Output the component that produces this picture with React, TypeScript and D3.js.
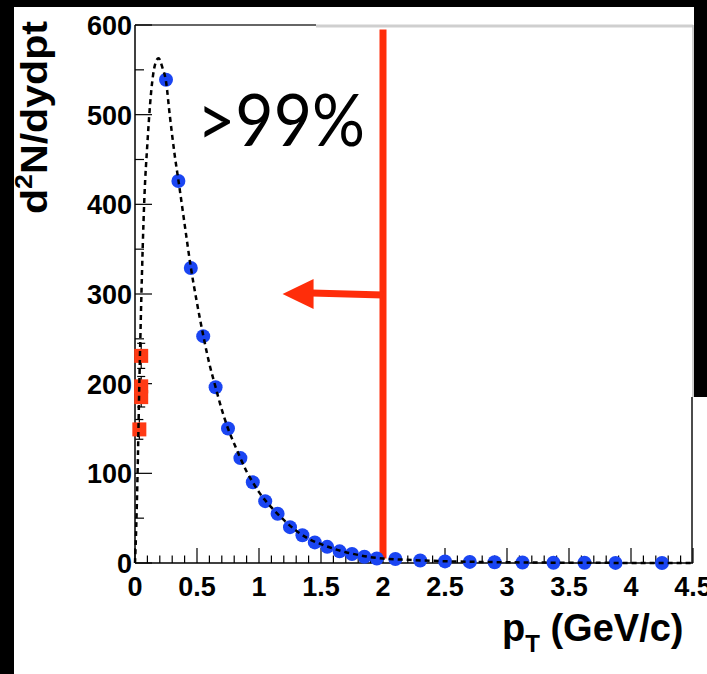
import React from 'react';
import * as d3 from 'd3';

// ---- data ----
const bluePt = [0.25, 0.35, 0.45, 0.55, 0.65, 0.75, 0.85, 0.95, 1.05, 1.15, 1.25, 1.35, 1.45, 1.55, 1.65, 1.75, 1.85, 1.95, 2.1, 2.3, 2.5, 2.7, 2.9, 3.125, 3.375, 3.625, 3.875, 4.25];
const blueVal = [539, 426, 329, 253, 196, 150, 117, 90, 69, 55, 40, 31, 23, 18, 13, 10, 7, 5, 4.5, 2.8, 1.8, 1.2, 0.8, 0.5, 0.3, 0.2, 0.1, 0.05];

const redPt = [0.05, 0.05, 0.05, 0.035];
const redVal = [231, 197, 185, 149];
const redErr = [14, 11, 11, 11];

const fitPt = [0.0, 0.01, 0.02, 0.035, 0.05, 0.075, 0.1, 0.13, 0.16, 0.19, 0.22, 0.25, 0.28, 0.32, 0.35, 0.4, 0.45, 0.5, 0.55, 0.6, 0.65, 0.7, 0.75, 0.8, 0.85, 0.9, 0.95, 1.0, 1.1, 1.2, 1.3, 1.4, 1.5, 1.6, 1.7, 1.8, 1.9, 2.0, 2.2, 2.5, 3.0, 3.5, 4.0, 4.5];
const fitVal = [0, 40, 95, 200, 290, 405, 468, 525, 555, 563, 553, 537, 500, 455, 427, 378, 330, 290, 254, 222, 196, 171, 150, 133, 117, 102, 90, 79, 62, 48, 36, 27, 21, 16, 12, 9, 6.5, 5, 3.5, 2, 0.8, 0.3, 0.1, 0.05];

const cutPt = 2.0;
const cutTop = 595;
const cutBottom = 5;
const arrowLevel = 300;
const arrowTip = 1.19;
const arrowHeadBase = 1.44;
const annotation = '>99%';

const xTicks = [0, 0.5, 1, 1.5, 2, 2.5, 3, 3.5, 4, 4.5];
const xTickLabels = ['0', '0.5', '1', '1.5', '2', '2.5', '3', '3.5', '4', '4.5'];
const yTicks = [0, 100, 200, 300, 400, 500, 600];
const yTickLabels = ['0', '100', '200', '300', '400', '500', '600'];

export default function App() {
  const W = 707, H = 674;
  const x = d3.scaleLinear().domain([0, 4.5]).range([135, 693]);
  const y = d3.scaleLinear().domain([0, 600]).range([563, 25]);

  const fitLine = d3
    .line<number>()
    .x((_, i) => x(fitPt[i]))
    .y((d) => y(d))
    .curve(d3.curveMonotoneX)(fitVal) as string;

  const xMinor = d3.range(0, 46).map((i) => i / 10);
  const yMinor = d3.range(0, 13).map((i) => i * 50);

  const axisFont = "'Liberation Sans', Arial, Helvetica, sans-serif";
  const red = '#ff2d0a';
  const blue = '#1a45f2';

  return (
    <svg width={W} height={H} style={{ position: 'absolute', left: 0, top: 0 }}>
      <rect x={0} y={0} width={W} height={H} fill="#000" />
      <path d={`M14,7 H694 V397 H${W} V${H} H14 Z`} fill="#fff" />

      {/* frame */}
      <line x1={x(0)} x2={316} y1={y(600)} y2={y(600)} stroke="#333" strokeWidth={1.5} />
      <line x1={316} x2={x(4.5)} y1={y(600) + 1} y2={y(600) + 1} stroke="#cfcfcf" strokeWidth={3} />
      <line x1={x(4.5)} x2={x(4.5)} y1={y(600)} y2={397} stroke="#bdbdbd" strokeWidth={1.5} />
      <line x1={x(4.5) - 1} x2={x(4.5) - 1} y1={397} y2={y(0)} stroke="#111" strokeWidth={1.5} />

      {/* axes */}
      <line x1={x(0)} x2={x(4.5)} y1={y(0)} y2={y(0)} stroke="#000" strokeWidth={1.5} />
      <line x1={x(0)} x2={x(0)} y1={y(0)} y2={y(600)} stroke="#000" strokeWidth={1.5} />
      {xMinor.map((v, i) => (
        <line key={'xm' + i} x1={x(v)} x2={x(v)} y1={y(0)} y2={y(0) - (i % 5 === 0 ? 15 : 7.5)} stroke="#000" strokeWidth={1.2} />
      ))}
      {yMinor.map((v, i) => (
        <line key={'ym' + i} x1={x(0)} x2={x(0) + (i % 2 === 0 ? 17 : 9)} y1={y(v)} y2={y(v)} stroke="#000" strokeWidth={1.2} />
      ))}
      {xTicks.map((v, i) => (
        <text key={'xl' + i} x={x(v)} y={596} textAnchor="middle" fontFamily={axisFont} fontWeight="bold" fontSize={27} fill="#000">
          {xTickLabels[i]}
        </text>
      ))}
      {yTicks.map((v, i) => (
        <text key={'yl' + i} x={132} y={y(v) + 10} textAnchor="end" fontFamily={axisFont} fontWeight="bold" fontSize={27} fill="#000">
          {yTickLabels[i]}
        </text>
      ))}

      {/* axis titles */}
      <text transform="translate(47,214) rotate(-90)" fontFamily={axisFont} fontWeight="bold" fontSize={37} fill="#000" textLength={193} lengthAdjust="spacingAndGlyphs">
        d<tspan dy={-15} fontSize={24}>2</tspan><tspan dy={15}>N/dydpt</tspan>
      </text>
      <text x={502} y={641} fontFamily={axisFont} fontWeight="bold" fontSize={38} fill="#000">
        p<tspan dy={11} fontSize={24}>T</tspan><tspan dy={-11}> (GeV/c)</tspan>
      </text>

      {/* red vertical cut and arrow */}
      <line x1={x(cutPt)} x2={x(cutPt)} y1={y(cutTop)} y2={y(cutBottom)} stroke={red} strokeWidth={7} />
      <line x1={x(arrowHeadBase) - 2} x2={x(cutPt)} y1={y(arrowLevel) - 1} y2={y(arrowLevel) + 1} stroke={red} strokeWidth={7} />
      <path
        d={`M${x(arrowTip)},${y(arrowLevel)} L${x(arrowHeadBase)},${y(arrowLevel) - 15} L${x(arrowHeadBase)},${y(arrowLevel) + 15} Z`}
        fill={red}
      />

      {/* blue points */}
      {bluePt.map((v, i) => (
        <circle key={'b' + i} cx={x(v)} cy={y(blueVal[i])} r={7} fill={blue} />
      ))}

      {/* red squares with error bars */}
      {redPt.map((v, i) => (
        <g key={'r' + i}>
          <line x1={x(v)} x2={x(v)} y1={y(redVal[i] + redErr[i])} y2={y(redVal[i] - redErr[i])} stroke="#000" strokeWidth={1.2} />
          <line x1={x(v) - 4} x2={x(v) + 4} y1={y(redVal[i] + redErr[i])} y2={y(redVal[i] + redErr[i])} stroke="#000" strokeWidth={1.2} />
          <line x1={x(v) - 4} x2={x(v) + 4} y1={y(redVal[i] - redErr[i])} y2={y(redVal[i] - redErr[i])} stroke="#000" strokeWidth={1.2} />
        </g>
      ))}
      {redPt.map((v, i) => (
        <rect key={'rs' + i} x={x(v) - 7} y={y(redVal[i]) - 7} width={14} height={14} fill="#ff3a14" />
      ))}

      {/* fit curve */}
      <path d={fitLine} fill="none" stroke="#000" strokeWidth={2.5} strokeDasharray="5,4" />

      {/* annotation */}
      <text x={197} y={146} fontFamily="Lato, 'Open Sans', sans-serif" fontSize={72} fill="#000" textLength={168} lengthAdjust="spacingAndGlyphs">
        {annotation}
      </text>
    </svg>
  );
}
